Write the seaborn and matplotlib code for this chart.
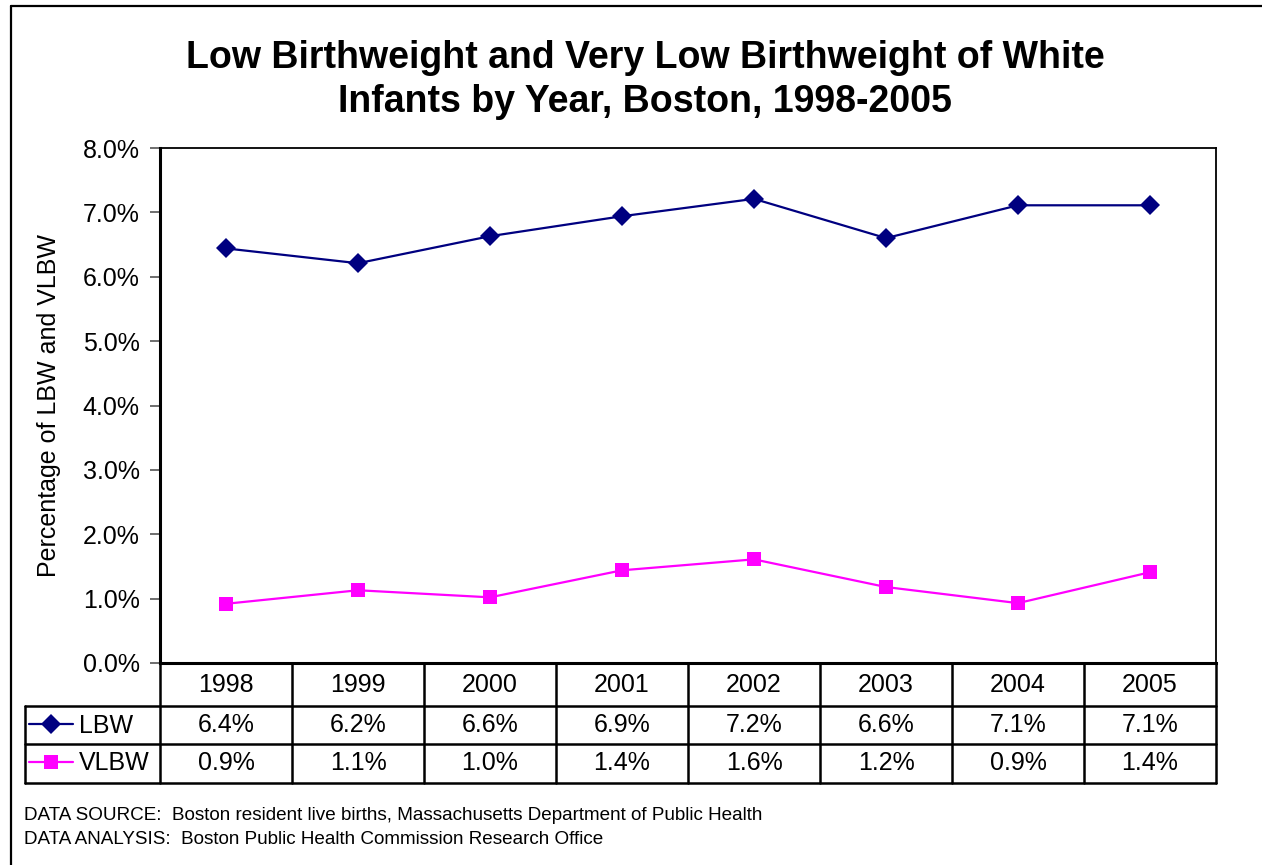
import pandas as pd
import seaborn as sns
import matplotlib.pyplot as plt
import matplotlib.ticker as ticker
from matplotlib.lines import Line2D

# Data (percent)
years = ["1998", "1999", "2000", "2001", "2002", "2003", "2004", "2005"]
lbw = [6.44, 6.21, 6.63, 6.94, 7.21, 6.60, 7.11, 7.11]
vlbw = [0.92, 1.13, 1.02, 1.44, 1.61, 1.18, 0.93, 1.41]
series_names = ["LBW", "VLBW"]
y_ticks = [0, 1, 2, 3, 4, 5, 6, 7, 8]

df = pd.DataFrame({"Year": years * 2,
                   "Series": ["LBW"] * len(years) + ["VLBW"] * len(years),
                   "Value": lbw + vlbw})

sns.set_theme(style="white")
plt.rcParams['font.family'] = ['Liberation Sans', 'DejaVu Sans']
plt.rcParams['text.color'] = 'black'
plt.rcParams['axes.labelcolor'] = 'black'
plt.rcParams['ytick.color'] = 'black'

W, H = 1262, 865
fig = plt.figure(figsize=(W / 100, H / 100), dpi=100)

def fx(px):
    return px / W

def fy(py):
    return 1 - py / H

ax_left, ax_right, ax_top, ax_bot = 160, 1216, 148, 663
ax = fig.add_axes([fx(ax_left), fy(ax_bot), fx(ax_right - ax_left), (ax_bot - ax_top) / H])

colors = {"LBW": "#000080", "VLBW": "#FF00FF"}
markers = {"LBW": "D", "VLBW": "s"}
sizes = {"LBW": 10, "VLBW": 9.5}
for name in series_names:
    sub = df[df["Series"] == name]
    sns.lineplot(data=sub, x="Year", y="Value", color=colors[name], marker=markers[name],
                 markersize=sizes[name], linewidth=1.6, markeredgewidth=0, ax=ax)

ax.set_xlim(-0.5, len(years) - 0.5)
ax.set_ylim(0, 8)
ax.set_yticks(y_ticks)
ax.yaxis.set_major_formatter(ticker.FuncFormatter(lambda v, p: f"{v:.1f}%"))
ax.set_xticks([])
ax.set_xlabel("")
ax.set_ylabel("Percentage of LBW and VLBW", fontsize=18, labelpad=16)
ax.tick_params(axis='y', direction='out', length=7, width=1.2, color='#555555',
               labelsize=18, pad=7.5, left=True, labelcolor='black')
for s in ax.spines.values():
    s.set_color('black')
    s.set_linewidth(1.3)
ax.spines['left'].set_linewidth(2.2)
ax.spines['bottom'].set_linewidth(2.2)

# Data table below the plot
row_lines = [663, 706, 744, 783]
col_w = (ax_right - ax_left) / len(years)
tbl_left = 25
lw = 1.8
for i, yr in enumerate(years):
    cx = ax_left + col_w * (i + 0.5)
    fig.text(fx(cx), fy((row_lines[0] + row_lines[1]) / 2), yr, ha='center', va='center', fontsize=18)
    fig.text(fx(cx), fy((row_lines[1] + row_lines[2]) / 2), f"{lbw[i]:.1f}%", ha='center', va='center', fontsize=18)
    fig.text(fx(cx), fy((row_lines[2] + row_lines[3]) / 2), f"{vlbw[i]:.1f}%", ha='center', va='center', fontsize=18)
for i in range(len(years) + 1):
    x = ax_left + col_w * i
    fig.add_artist(Line2D([fx(x), fx(x)], [fy(row_lines[0]), fy(row_lines[3])], color='black', lw=lw))
fig.add_artist(Line2D([fx(ax_left), fx(ax_right)], [fy(row_lines[0]), fy(row_lines[0])], color='black', lw=lw))
for r in row_lines[1:]:
    fig.add_artist(Line2D([fx(tbl_left), fx(ax_right)], [fy(r), fy(r)], color='black', lw=lw))
fig.add_artist(Line2D([fx(tbl_left), fx(tbl_left)], [fy(row_lines[1]), fy(row_lines[3])], color='black', lw=lw))

# legend keys inside the table's row label cells
handles = [Line2D([], [], color=colors[n], marker=markers[n], markersize=sizes[n], lw=1.6,
                  markeredgewidth=0) for n in series_names]
fig.legend(handles, series_names, loc='center left',
           bbox_to_anchor=(fx(tbl_left + 4), fy((row_lines[1] + row_lines[3]) / 2)),
           frameon=False, fontsize=18, handlelength=1.75, handletextpad=0.25,
           labelspacing=0.55, borderpad=0, borderaxespad=0)

fig.text(fx(645), fy(80), "Low Birthweight and Very Low Birthweight of White\nInfants by Year, Boston, 1998-2005",
         ha='center', va='center', fontsize=27, fontweight='bold', linespacing=1.3)

fig.text(fx(24), fy(816), "DATA SOURCE:  Boston resident live births, Massachusetts Department of Public Health",
         ha='left', va='center', fontsize=13.6)
fig.text(fx(24), fy(839), "DATA ANALYSIS:  Boston Public Health Commission Research Office",
         ha='left', va='center', fontsize=13.6)

# outer chart border (only top and left edges visible)
fig.add_artist(Line2D([fx(11), fx(11)], [fy(6), 0], color='black', lw=1.6))
fig.add_artist(Line2D([fx(11), 1], [fy(6), fy(6)], color='black', lw=1.6))

fig.savefig("out.png", dpi=100)
